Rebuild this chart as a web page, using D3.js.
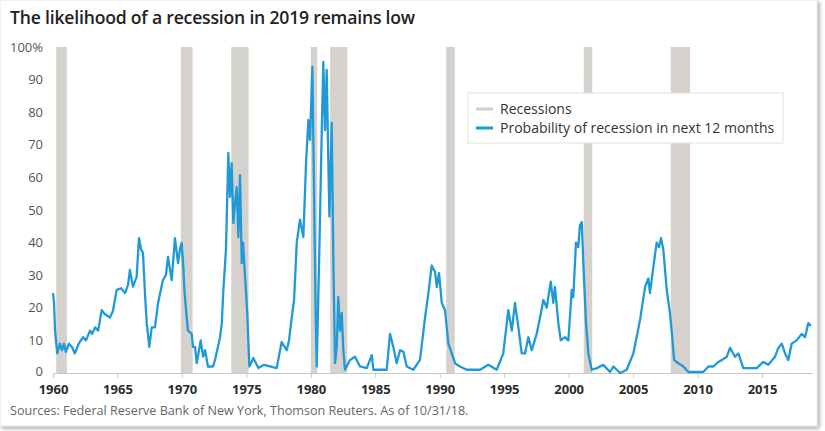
<!DOCTYPE html>
<html>
<head>
<meta charset="utf-8">
<script src="https://cdn.jsdelivr.net/npm/d3@7"></script>
<style>
  body { margin: 0; background: #fff; }
  svg { display: block; }
</style>
</head>
<body>
<div id="chart"></div>
<script>
// recession periods (NBER), decimal years
const recessionStart = [1960.25, 1969.92, 1973.83, 1980.0, 1981.5, 1990.5, 2001.17, 2007.92];
const recessionEnd = [1961.08, 1970.83, 1975.17, 1980.5, 1982.83, 1991.17, 2001.83, 2009.42];

// probability of recession in next 12 months (%)
const dates = [
  1960.0, 1960.08, 1960.16, 1960.23, 1960.33, 1960.54, 1960.7, 1960.85, 1961.0, 1961.24,
  1961.47, 1961.7, 1962.0, 1962.33, 1962.56, 1962.87, 1963.03, 1963.26, 1963.5, 1963.78,
  1964.03, 1964.42, 1964.65, 1964.94, 1965.28, 1965.59, 1965.82, 1965.97, 1966.2, 1966.49,
  1966.67, 1966.83, 1966.98, 1967.14, 1967.27, 1967.47, 1967.66, 1967.91, 1968.15, 1968.53,
  1968.76, 1968.92, 1969.21, 1969.46, 1969.7, 1969.85, 1969.98, 1970.11, 1970.2, 1970.35,
  1970.47, 1970.76, 1970.86, 1971.02, 1971.15, 1971.46, 1971.64, 1971.8, 1972.02, 1972.41,
  1972.57, 1972.96, 1973.09, 1973.21, 1973.42, 1973.6, 1973.73, 1973.86, 1973.99, 1974.12,
  1974.25, 1974.38, 1974.51, 1974.64, 1974.74, 1974.9, 1975.07, 1975.23, 1975.36, 1975.54,
  1975.93, 1976.37, 1976.84, 1977.35, 1977.74, 1978.13, 1978.31, 1978.52, 1978.7, 1978.91,
  1979.16, 1979.42, 1979.63, 1979.81, 1979.94, 1980.12, 1980.25, 1980.38, 1980.46, 1980.64,
  1980.85, 1980.97, 1981.1, 1981.23, 1981.36, 1981.44, 1981.62, 1981.75, 1981.88, 1982.01,
  1982.13, 1982.26, 1982.4, 1982.52, 1982.65, 1983.04, 1983.43, 1983.82, 1984.34, 1984.73,
  1984.85, 1985.89, 1986.14, 1986.4, 1986.66, 1986.92, 1987.18, 1987.44, 1987.95, 1988.47,
  1988.86, 1989.12, 1989.38, 1989.64, 1989.77, 1989.95, 1990.16, 1990.41, 1990.67, 1990.93,
  1991.19, 1991.57, 1992.09, 1993.13, 1993.77, 1994.42, 1994.93, 1995.32, 1995.59, 1995.84,
  1996.1, 1996.36, 1996.62, 1996.87, 1997.14, 1997.52, 1997.78, 1998.04, 1998.3, 1998.61,
  1998.81, 1998.94, 1999.2, 1999.39, 1999.72, 1999.98, 2000.24, 2000.36, 2000.57, 2000.75,
  2000.88, 2001.02, 2001.14, 2001.35, 2001.53, 2001.79, 2002.2, 2002.69, 2003.21, 2003.47,
  2003.99, 2004.51, 2005.02, 2005.54, 2005.93, 2006.18, 2006.31, 2006.57, 2006.83, 2007.01,
  2007.17, 2007.35, 2007.61, 2007.86, 2008.04, 2008.18, 2008.51, 2008.9, 2009.29, 2010.45,
  2010.84, 2011.23, 2011.62, 2011.88, 2012.27, 2012.52, 2012.91, 2013.17, 2013.55, 2014.59,
  2015.1, 2015.49, 2016.01, 2016.27, 2016.53, 2016.79, 2017.04, 2017.3, 2017.69, 2018.08,
  2018.34, 2018.59, 2018.8
];
const probability = [
  24.5, 21.5, 13, 10, 6, 9, 7, 9, 6.5, 9,
  8, 6, 9, 11, 10, 13, 12, 14, 13, 19.3,
  18, 17, 19, 25.5, 26, 24.5, 27, 31.6, 26.5, 29.5,
  41.4, 38, 36.8, 24, 15.3, 8, 14, 14, 21.5, 28.5,
  30, 35.6, 28.5, 41.4, 33.7, 38, 39.9, 32.5, 25, 18,
  13, 12, 8, 8, 3, 10, 5, 7, 2, 2,
  4, 11, 15, 25, 38, 67.5, 54, 64.4, 46, 52,
  57, 41.7, 60.7, 33.7, 40, 29.5, 18.4, 2, 3, 4.6,
  1.5, 2.5, 2, 1.5, 9.5, 7, 10, 17, 22.4, 40,
  47, 41.7, 64.4, 77.6, 71.5, 94, 56, 17, 2, 33.7,
  74.5, 95.4, 74.5, 93, 64.4, 48, 76.7, 33.7, 3, 8,
  23.3, 13, 18.4, 7, 1, 4, 5, 2, 1.5, 5.5,
  1, 1, 12, 8, 3, 7, 6.5, 2, 1, 4,
  17, 24.5, 33, 31, 26.4, 30.6, 21.5, 19.3, 9, 6,
  3, 2, 1, 1, 2.5, 1, 6, 19.3, 13, 21.5,
  14, 6, 6, 11, 7, 12, 17, 22.4, 20, 28,
  21.5, 26.4, 15.3, 10, 11, 10, 25.5, 23.3, 40, 38.6,
  45.4, 46.3, 33.7, 15.3, 6, 1, 1.5, 2.5, 0.3, 2,
  0, 1, 6, 16.3, 26.4, 29, 24.5, 32.5, 40, 38.6,
  41.4, 37.7, 25.5, 18.4, 11, 4, 3, 2, 0.3, 0.3,
  2, 2, 3.4, 4, 5, 7.7, 5, 6, 1.5, 1.5,
  3.4, 2.5, 5, 7.7, 9, 6, 4, 9, 10, 12,
  11, 15.3, 14.5
];

const yTicks = [0, 10, 20, 30, 40, 50, 60, 70, 80, 90, 100];
const xTicks = [1960, 1965, 1970, 1975, 1980, 1985, 1990, 1995, 2000, 2005, 2010, 2015];

const width = 825, height = 431;
const margin = { top: 47, right: 12, bottom: 58, left: 53 };
const innerH = height - margin.top - margin.bottom;
const font = "'Open Sans', Lato, sans-serif";

const blue = "#1f9ad6";
const grey = "#d5d2ce";

const svg = d3.select("#chart").append("svg")
  .attr("width", width)
  .attr("height", height);

// card frame with soft shadow
const defs = svg.append("defs");
const f = defs.append("filter").attr("id", "shadow")
  .attr("x", "-5%").attr("y", "-5%").attr("width", "110%").attr("height", "110%");
f.append("feDropShadow").attr("dx", 2).attr("dy", 2).attr("stdDeviation", 2)
  .attr("flood-color", "#000").attr("flood-opacity", 0.35);
svg.append("rect")
  .attr("x", 0).attr("y", 0).attr("width", 817).attr("height", 426)
  .attr("fill", "#fff").attr("stroke", "#e4e4e4").attr("filter", "url(#shadow)");

// 1960 sits at x=53, 2015 at x=762
const x = d3.scaleLinear().domain([1960, 2015]).range([0, 709]);
const y = d3.scaleLinear().domain([0, 100]).range([innerH, 0]);

const g = svg.append("g").attr("transform", `translate(${margin.left},${margin.top})`);

// recession bars
g.selectAll("rect.rec")
  .data(recessionStart)
  .enter()
  .append("rect")
  .attr("class", "rec")
  .attr("x", (d) => x(d))
  .attr("y", 0)
  .attr("width", (d, i) => x(recessionEnd[i]) - x(d))
  .attr("height", innerH)
  .attr("fill", grey);

// x axis
const xAxis = g.append("g")
  .attr("transform", `translate(0,${innerH})`)
  .call(d3.axisBottom(x).tickValues(xTicks).tickFormat(d3.format("d")).tickSize(5).tickPadding(7).tickSizeOuter(0));
xAxis.select(".domain").attr("stroke", "#c8c8c8").attr("d", `M0,0.5H${x(2018.95)}`);
xAxis.selectAll(".tick line").attr("stroke", "#c8c8c8");
xAxis.selectAll("text")
  .attr("fill", "#2b2b2b")
  .style("font-family", font)
  .style("font-weight", "bold")
  .style("font-size", "13px");

// y axis labels
g.selectAll("text.ylab")
  .data(yTicks)
  .enter()
  .append("text")
  .attr("class", "ylab")
  .attr("x", -10)
  .attr("y", (d) => y(d) - (d === 0 ? 1.5 : 0))
  .attr("dy", "0.35em")
  .attr("text-anchor", "end")
  .attr("fill", "#555")
  .style("font-family", font)
  .style("font-size", "13px")
  .text((d) => (d === 100 ? "100%" : d));

// probability line
const line = d3.line()
  .x((d) => x(d))
  .y((d, i) => y(probability[i]));
g.append("path")
  .datum(dates)
  .attr("d", line)
  .attr("fill", "none")
  .attr("stroke", blue)
  .attr("stroke-width", 2.3)
  .attr("stroke-linejoin", "round");

// legend
const legend = svg.append("g").attr("transform", "translate(468,93)");
legend.append("rect")
  .attr("width", 315).attr("height", 50)
  .attr("fill", "#fff").attr("stroke", "#e2e2e2");
const legendItems = [
  { label: "Recessions", color: "#cfcfcf" },
  { label: "Probability of recession in next 12 months", color: blue },
];
const li = legend.selectAll("g.item")
  .data(legendItems)
  .enter()
  .append("g")
  .attr("class", "item")
  .attr("transform", (d, i) => `translate(8,${16 + i * 19})`);
li.append("line")
  .attr("x1", 0).attr("x2", 17)
  .attr("stroke", (d) => d.color)
  .attr("stroke-width", 3);
li.append("text")
  .attr("x", 24)
  .attr("dy", "0.35em")
  .attr("fill", "#333")
  .style("font-family", font)
  .style("font-size", "14px")
  .text((d) => d.label);

// title
svg.append("text")
  .attr("x", 10).attr("y", 24)
  .attr("fill", "#222")
  .style("font-family", font)
  .style("font-weight", 600)
  .style("font-size", "17.6px")
  .style("letter-spacing", "-0.2px")
  .text("The likelihood of a recession in 2019 remains low");

// source
svg.append("text")
  .attr("x", 10).attr("y", 415)
  .attr("fill", "#666")
  .style("font-family", font)
  .style("font-size", "12.6px")
  .text("Sources: Federal Reserve Bank of New York, Thomson Reuters. As of 10/31/18.");
</script>
</body>
</html>
